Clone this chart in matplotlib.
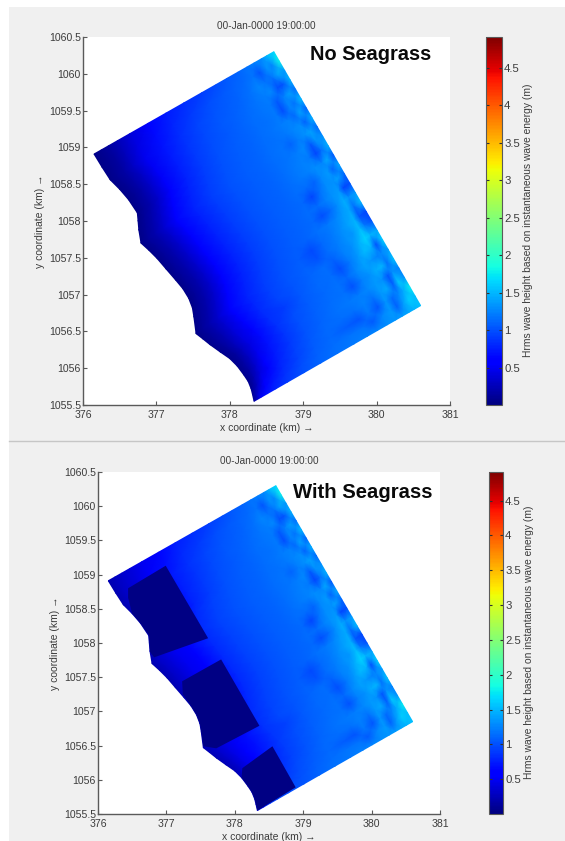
import numpy as np
import matplotlib
matplotlib.use("Agg")
import matplotlib.pyplot as plt
from matplotlib.colors import Normalize
from matplotlib.patches import Rectangle
from matplotlib.lines import Line2D

plt.rcParams['font.family'] = ['Liberation Sans', 'DejaVu Sans']

# ---------- data ----------
title_text = "00-Jan-0000 19:00:00"
xlabel_text = "x coordinate (km) \u2192"
ylabel_text = "y coordinate (km) \u2192"
cbar_label = "Hrms wave height based on instantaneous wave energy (m)"
panel_names = ["No Seagrass", "With Seagrass"]

x_ticks = [376, 377, 378, 379, 380, 381]
y_ticks = [1055.5, 1056, 1056.5, 1057, 1057.5, 1058, 1058.5, 1059, 1059.5, 1060, 1060.5]
y_tick_labels = ["1055.5", "1056", "1056.5", "1057", "1057.5", "1058", "1058.5",
                 "1059", "1059.5", "1060", "1060.5"]
c_ticks = [0.5, 1, 1.5, 2, 2.5, 3, 3.5, 4, 4.5]
c_tick_labels = ["0.5", "1", "1.5", "2", "2.5", "3", "3.5", "4", "4.5"]
c_min, c_max = 0.0, 4.91

coast_x = [376.15, 376.26, 376.37, 376.50, 376.62, 376.74, 376.75, 376.76, 376.79, 376.90,
           377.01, 377.13, 377.26, 377.36, 377.44, 377.49, 377.51, 377.54, 377.63, 377.73,
           377.87, 378.00, 378.10, 378.19, 378.25, 378.29, 378.31, 378.33]
coast_y = [1058.91, 1058.73, 1058.56, 1058.43, 1058.29, 1058.11, 1058.00, 1057.88, 1057.70, 1057.60,
           1057.49, 1057.35, 1057.20, 1057.08, 1056.95, 1056.82, 1056.70, 1056.47, 1056.40, 1056.32,
           1056.22, 1056.13, 1056.03, 1055.91, 1055.82, 1055.72, 1055.64, 1055.55]
sea_x = [378.60, 380.60]
sea_y = [1060.30, 1056.85]

across_fraction = [0, .04, .08, .13, .2, .3, .4, .5, .6, .68, .74, .8, .85, .89, .93, .96, 1]

hrms = [
 [.04, .08, .14, .24, .40, .60, .74, .84, .92, .98, 1.04, 1.10, 1.18, 1.24, 1.28, 1.50, 1.65],
 [.04, .09, .15, .26, .44, .66, .80, .90, .98, 1.04, 1.08, 1.12, 1.18, 1.02, 1.32, 1.25, 1.80],
 [.05, .10, .17, .29, .48, .70, .84, .94, 1.02, 1.06, 1.10, 1.16, 1.26, 1.18, 1.16, 1.40, 1.35],
 [.05, .11, .18, .30, .50, .73, .87, .96, 1.04, 1.08, 1.12, 1.18, 1.22, 1.28, .98, 1.02, 1.48],
 [.05, .11, .19, .32, .52, .75, .89, .98, 1.05, 1.10, 1.14, 1.18, 1.20, 1.04, 1.24, 1.38, 1.15],
 [.05, .12, .20, .33, .54, .77, .91, 1.00, 1.06, 1.10, 1.14, 1.16, 1.20, .98, 1.26, 1.16, 1.52],
 [.05, .12, .20, .34, .55, .78, .92, 1.00, 1.06, 1.10, 1.14, 1.18, 1.22, 1.24, 1.12, 1.40, 1.08],
 [.05, .12, .20, .34, .55, .78, .92, 1.00, 1.06, 1.10, 1.14, 1.16, 1.20, 1.26, 1.30, 1.08, 1.46],
 [.05, .12, .20, .34, .55, .78, .92, 1.00, 1.06, 1.10, 1.15, 1.18, 1.10, 1.22, 1.32, 1.40, 1.12],
 [.05, .12, .20, .34, .55, .78, .92, 1.00, 1.06, 1.10, 1.15, 1.18, 1.22, 1.28, 1.05, 1.32, 1.32],
 [.05, .12, .20, .34, .55, .78, .92, 1.00, 1.06, 1.11, 1.15, 1.20, 1.24, 1.20, .95, 1.15, 1.46],
 [.05, .12, .20, .34, .55, .78, .92, 1.00, 1.06, 1.11, 1.15, 1.20, 1.24, 1.30, 1.26, 1.42, 1.02],
 [.05, .12, .20, .34, .55, .78, .92, 1.00, 1.06, 1.11, 1.15, 1.14, 1.10, 1.28, 1.36, 1.10, 1.42],
 [.05, .12, .20, .34, .55, .78, .92, 1.00, 1.06, 1.11, 1.12, .95, 1.18, 1.30, 1.32, 1.40, 1.10],
 [.05, .12, .20, .34, .55, .78, .92, 1.00, 1.06, 1.11, 1.15, 1.15, 1.24, 1.32, 1.36, .95, .98],
 [.05, .12, .20, .34, .55, .78, .92, 1.00, 1.06, 1.11, 1.12, .98, 1.15, 1.30, 1.44, 1.32, 1.38],
 [.05, .12, .20, .34, .55, .78, .92, 1.00, 1.07, 1.11, 1.16, 1.20, 1.26, 1.36, 1.42, 1.15, 1.52],
 [.05, .12, .20, .34, .55, .78, .92, 1.00, 1.06, .96, 1.12, 1.20, 1.30, 1.40, 1.46, 1.02, .95],
 [.06, .13, .22, .36, .57, .80, .93, 1.02, 1.08, 1.00, 1.14, 1.22, 1.32, 1.34, 1.52, 1.20, 1.00],
 [.06, .14, .23, .38, .60, .82, .95, 1.03, 1.10, 1.14, 1.08, 1.24, 1.30, 1.44, 1.64, 1.48, 1.42],
 [.06, .14, .25, .41, .62, .84, .92, 1.05, 1.12, 1.14, .98, 1.20, 1.36, 1.50, 1.46, 1.00, 1.62],
 [.06, .15, .27, .44, .66, .86, .98, 1.06, 1.13, 1.16, 1.12, 1.28, 1.40, 1.34, 1.24, 1.28, 1.38],
 [.06, .17, .30, .48, .70, .88, 1.00, 1.08, 1.14, 1.16, 1.00, 1.24, 1.32, 1.44, 1.48, 1.16, 1.56],
 [.06, .19, .35, .54, .74, .90, 1.02, 1.10, 1.16, 1.20, 1.22, 1.28, 1.36, 1.32, 1.02, 1.32, 1.24],
 [.07, .24, .44, .62, .78, .93, 1.04, 1.12, 1.14, 1.16, 1.24, 1.16, 1.36, 1.42, 1.08, 1.56, 1.32],
 [.08, .30, .52, .68, .82, .95, 1.06, 1.13, 1.06, 1.02, 1.20, 1.02, 1.34, 1.12, 1.28, 1.42, 1.75],
 [.10, .40, .62, .74, .86, .98, 1.08, 1.14, 1.18, 1.18, 1.05, 1.28, 1.36, 1.08, 1.40, 1.60, 1.52],
 [.12, .50, .70, .80, .90, 1.00, 1.10, 1.16, 1.20, 1.24, 1.26, 1.30, 1.34, 1.38, 1.42, 1.46, 1.55],
]

seagrass_lift = [.18, .20, .20, .15, .08, .03, .01, 0, 0, 0, 0, 0, 0, 0, 0, 0, 0]

seagrass_value = 0.02
patch_1_x = [376.99, 377.61, 376.82, 376.76, 376.745, 376.62, 376.50, 376.44, 376.44]
patch_1_y = [1059.13, 1058.07, 1057.79, 1057.87, 1058.11, 1058.29, 1058.43, 1058.66, 1058.80]
patch_2_x = [377.80, 378.36, 377.73, 377.54, 377.51, 377.49, 377.44, 377.36, 377.24, 377.23]
patch_2_y = [1057.76, 1056.79, 1056.46, 1056.49, 1056.70, 1056.82, 1056.95, 1057.08, 1057.25, 1057.44]
patch_3_x = [378.55, 378.89, 378.33, 378.31, 378.29, 378.25, 378.19, 378.10, 378.11]
patch_3_y = [1056.49, 1055.89, 1055.55, 1055.64, 1055.72, 1055.82, 1055.91, 1056.03, 1056.17]

# ---------- layout (pixels of the 565 x 841 image) ----------
W, H = 565, 841
TXT = '#3c3c3c'
AXC = '#5a5a5a'

def px_rect(l, t, r, b):
    return [l / W, 1 - b / H, (r - l) / W, (b - t) / H]

fig = plt.figure(figsize=(W / 100, H / 100), dpi=100, facecolor='white')
fig.add_artist(Rectangle((9 / W, 0), 1 - 9 / W, 1 - 7 / H, transform=fig.transFigure,
                         facecolor='#f0f0f0', edgecolor='none', zorder=-5))
fig.add_artist(Line2D([9 / W, 1], [1 - 440.5 / H] * 2, transform=fig.transFigure,
                      color='#c6c6c6', lw=1.0, zorder=-4))

norm = Normalize(c_min, c_max)
cmap = plt.get_cmap('jet')

field = np.array(hrms)
frac = np.array(across_fraction)
n_rows = field.shape[0]
t = np.arange(n_rows) / (n_rows - 1)
sx = sea_x[0] + t * (sea_x[1] - sea_x[0])
sy = sea_y[0] + t * (sea_y[1] - sea_y[0])
cx, cy = np.array(coast_x), np.array(coast_y)
X = cx[:, None] + (sx - cx)[:, None] * frac[None, :]
Y = cy[:, None] + (sy - cy)[:, None] * frac[None, :]

panels = [
    dict(ax=px_rect(83, 37, 450, 405), cb=px_rect(486, 37, 502, 405),
         lab_xy=(371, 55), name=panel_names[0], fs=14.4, lbl=528, cbl_fig_y=220),
    dict(ax=px_rect(98, 472, 440, 814), cb=px_rect(489, 472, 503, 814),
         lab_xy=(363, 492), name=panel_names[1], fs=14.6, lbl=529, cbl_fig_y=642),
]

for i, p in enumerate(panels):
    ax = fig.add_axes(p['ax'], facecolor='white')
    values = field + (np.array(seagrass_lift)[None, :] if i == 1 else 0)
    mesh = ax.pcolormesh(X, Y, values, shading='gouraud', cmap=cmap, norm=norm, rasterized=True)
    if i == 1:
        color = cmap(norm(seagrass_value))
        for px_, py_ in ((patch_1_x, patch_1_y), (patch_2_x, patch_2_y), (patch_3_x, patch_3_y)):
            ax.fill(px_, py_, color=color, lw=0, zorder=3)
    ax.set_xlim(376, 381)
    ax.set_ylim(1055.5, 1060.5)
    ax.set_xticks(x_ticks)
    ax.set_xticklabels([str(v) for v in x_ticks])
    ax.set_yticks(y_ticks)
    ax.set_yticklabels(y_tick_labels)
    ax.tick_params(direction='in', length=3.2, width=0.8, color=AXC, labelcolor=TXT,
                   labelsize=7.6, pad=1.5)
    ax.tick_params(axis='x', pad=3.5)
    for s in ('top', 'right'):
        ax.spines[s].set_visible(False)
    for s in ('left', 'bottom'):
        ax.spines[s].set_color(AXC)
        ax.spines[s].set_linewidth(1.0)
    ax.set_title(title_text, fontsize=7.2, color=TXT, pad=5.6)
    ax.set_xlabel(xlabel_text, fontsize=7.5, color=TXT, labelpad=2.0)
    ax.set_ylabel(ylabel_text, fontsize=7.5, color=TXT, labelpad=3)
    fig.text(p['lab_xy'][0] / W, 1 - p['lab_xy'][1] / H, p['name'], fontsize=p['fs'],
             fontweight='bold', color='#0a0a0a', ha='center', va='center')

    cax = fig.add_axes(p['cb'])
    cb = fig.colorbar(mesh, cax=cax)
    cb.set_ticks(c_ticks)
    cb.set_ticklabels(c_tick_labels)
    cb.solids.set_rasterized(True)
    cax.tick_params(direction='in', length=2.5, width=0.8, color='#303030', labelcolor=TXT,
                    labelsize=8.2, pad=1.5, left=True, right=True)
    cb.outline.set_edgecolor(AXC)
    cb.outline.set_linewidth(0.8)
    fig.text(p['lbl'] / W, 1 - p['cbl_fig_y'] / H, cbar_label, rotation=90, fontsize=7.4,
             color=TXT, ha='center', va='center')

fig.savefig('out.png', dpi=100, facecolor='white')
